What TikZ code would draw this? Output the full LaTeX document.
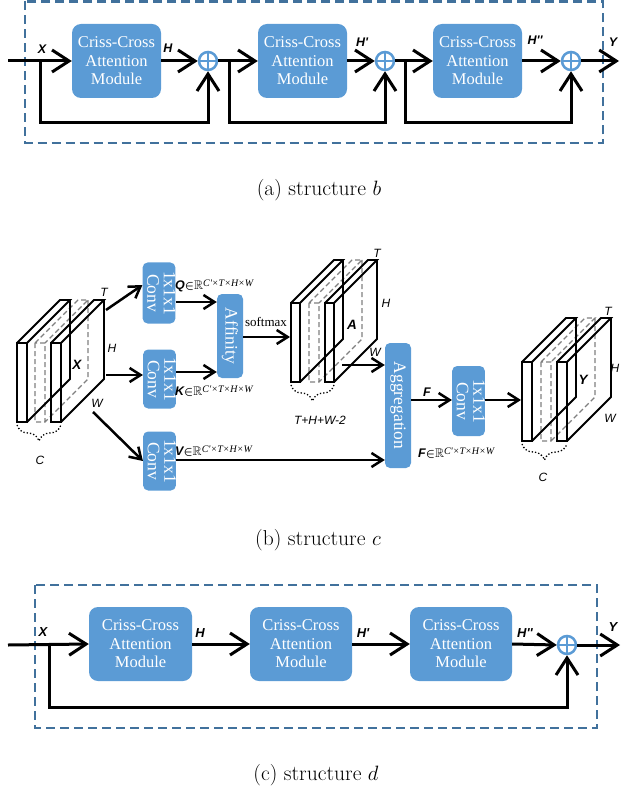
\documentclass[tikz,border=0pt]{standalone}
\usepackage{fontspec}
\usepackage{amsmath,amssymb}
\usetikzlibrary{arrows.meta,decorations.pathreplacing,calc}
\newfontfamily\tnr{Liberation Serif}
\newfontfamily\arl{Liberation Sans}
\definecolor{cblue}{HTML}{5B9BD5}
\definecolor{dblue}{HTML}{41719C}
\newcommand{\myslab}[6]{%
  \draw[#1] (#2,#3) rectangle ++(#4,#5)
    (#2,#3) -- ++(#6,-#6) -- ++(#4,0) -- ++(-#6,#6)
    ++(#6,-#6) -- ++(0,#5) -- ++(-#6,#6);}
\newcommand{\convtxt}{\rotatebox{-90}{\begin{tabular}{@{}c@{}}1x1x1\\Conv\end{tabular}}}
\newcommand{\tens}[1]{{\arl\bfseries\itshape #1}{\boldmath$\in$}$\mathbb{R}$\raisebox{3.5pt}{\normalfont\tnr\itshape\fontsize{10}{10}\selectfont C'×T×H×W}}
\newcommand{\ccatxt}{Criss-Cross\\Attention\\Module}
\begin{document}
\begin{tikzpicture}[x=1pt,y=-1pt,
  cca/.style={rectangle,rounded corners=9pt,fill=cblue,text=white,font=\tnr\fontsize{16.5}{18.5}\selectfont,align=center,minimum height=74pt,inner sep=0pt},
  vbox/.style={rectangle,rounded corners=5pt,fill=cblue,text=white,inner sep=0pt,font=\tnr\fontsize{17.5}{16}\selectfont},
  oplus/.style={circle,draw=cblue,line width=2.5pt,fill=white,minimum size=18pt,inner sep=0pt},
  big/.style={line width=3pt,-{Straight Barb[length=17pt,width=22pt]}},
  sm/.style={line width=2.5pt,-{Straight Barb[length=11pt,width=14pt]}},
  dframe/.style={draw=dblue,line width=2.5pt,dash pattern=on 9pt off 5pt},
  lbl/.style={font=\arl\bfseries\itshape\fontsize{12.5}{12.5}\selectfont,inner sep=0pt},
  lbld/.style={font=\arl\bfseries\itshape\fontsize{13}{13}\selectfont,inner sep=0pt},
  lblb/.style={font=\arl\bfseries\itshape\fontsize{13.5}{13.5}\selectfont,inner sep=0pt},
  dimlbl/.style={font=\arl\itshape\fontsize{12}{12}\selectfont,inner sep=0pt},
  captext/.style={font=\fontsize{21.5}{24}\selectfont,inner sep=0pt},
  slabline/.style={line width=1.8pt,line join=miter},
  slabdash/.style={line width=1.3pt,gray,dash pattern=on 5pt off 3pt},
  brc/.style={line width=1.3pt,dotted,decorate,decoration={brace,mirror,amplitude=16pt}},
  ]
\useasboundingbox (0,0) rectangle (621,791);
% ================= structure b =================
\draw[dframe] (25,1.5) rectangle (603,143);
\node[cca,minimum width=89pt] (b1) at (116.5,61) {\ccatxt};
\node[cca,minimum width=89pt] (b2) at (302.5,61) {\ccatxt};
\node[cca,minimum width=89pt] (b3) at (477.5,61) {\ccatxt};
\node[oplus] (p1) at (208,61) {};
\node[oplus] (p2) at (385,61) {};
\node[oplus] (p3) at (571,61) {};
\foreach \p in {p1,p2,p3}{\draw[cblue,line width=2.5pt] (\p.north) -- (\p.south) (\p.west) -- (\p.east);}
\coordinate (bin) at (8,61);
\coordinate (bout) at (619,61);
\coordinate (bf1) at (40,61);  \coordinate (bf1d) at (40,123);
\coordinate (bf2) at (229,61); \coordinate (bf2d) at (229,123);
\coordinate (bf3) at (405,61); \coordinate (bf3d) at (405,123);
\draw[big] (bin) -- (b1.west);
\draw[big] (b1.east) -- (p1.west);
\draw[big] (p1.east) -- (b2.west);
\draw[big] (b2.east) -- (p2.west);
\draw[big] (p2.east) -- (b3.west);
\draw[big] (b3.east) -- (p3.west);
\draw[big] (p3.east) -- (bout);
\draw[big] (bf1) -- (bf1d) -| (p1.south);
\draw[big] (bf2) -- (bf2d) -| (p2.south);
\draw[big] (bf3) -- (bf3d) -| (p3.south);
\node[lbl] (bx) at (42,49) {X};
\node[lbl] (bh) at (168,48) {H};
\node[lbl] (bh1) at (362,42) {H'};
\node[lbl] (bh2) at (535,40) {H''};
\node[lbl] (by) at (613,42) {Y};
\node[captext] (capa) at (319,190) {(a) structure $b$};
% ================= structure c =================
% X stack
\myslab{slabdash}{35}{343}{10}{79}{43}
\myslab{slabline}{17}{343}{10}{79}{43}
\myslab{slabline}{51}{343}{10}{79}{43}
\draw[brc] (17,425) -- (61,425);
\node[dimlbl] (xt) at (104,292) {T};
\node[dimlbl] (xh) at (112,348) {H};
\node[dimlbl] (xw) at (97,403) {W};
\node[lblb] (xx) at (77,365) {X};
\node[dimlbl] (xc) at (40,460) {C};
% A stack
\myslab{slabdash}{309}{303}{10}{79}{43}
\myslab{slabline}{291}{303}{9}{79}{43}
\myslab{slabline}{325}{303}{9}{79}{43}
\draw[brc] (291,385) -- (334,385);
\node[dimlbl] (at) at (377,253) {T};
\node[dimlbl] (ah) at (386,303) {H};
\node[dimlbl] (aw) at (375,352) {W};
\node[lblb] (aa) at (352,325) {A};
\node[dimlbl] (athw) at (320,420) {T+H+W-2};
% Y stack
\myslab{slabdash}{541}{362}{10}{79}{44}
\myslab{slabline}{522}{362}{10}{79}{44}
\myslab{slabline}{557}{362}{10}{79}{44}
\draw[brc] (522,444) -- (567,444);
\node[dimlbl] (yt) at (608,311) {T};
\node[dimlbl] (yh) at (615,368) {H};
\node[dimlbl] (yw) at (610,418) {W};
\node[lblb] (yy) at (583,380) {Y};
\node[dimlbl] (yc) at (543,477) {C};
% boxes
\node[vbox,minimum width=31pt,minimum height=61pt] (cq) at (159,293) {\convtxt};
\node[vbox,minimum width=30pt,minimum height=59pt] (ck) at (159.5,379) {\convtxt};
\node[vbox,minimum width=30pt,minimum height=59pt] (cv) at (159.5,461) {\convtxt};
\node[vbox,minimum width=26pt,minimum height=84pt] (aff) at (230,336) {\rotatebox{-90}{Affinity}};
\node[vbox,minimum width=26pt,minimum height=125pt] (agg) at (398,405.5) {\rotatebox{-90}{Aggregation}};
\node[vbox,minimum width=31pt,minimum height=70pt] (c4) at (468.5,401) {\convtxt};
% arrows
\coordinate (xq) at (106,310);
\coordinate (xk) at (106,375);
\coordinate (xv) at (93,412);
\coordinate (ain) at (290,337);
\coordinate (aout) at (342,365);
\coordinate (yin) at (521,400);
\draw[sm] (xq) -- (cq.west |- 0,285);
\draw[sm] (xk) -- (ck.west |- 0,375);
\draw[sm] (xv) -- (cv.west |- 0,461);
\draw[sm] (cq.east |- 0,302) -- (aff.west |- 0,302);
\draw[sm] (ck.east |- 0,372) -- (aff.west |- 0,372);
\draw[sm] (aff.east |- 0,337) -- (ain);
\draw[sm] (aout) -- (agg.west |- 0,365);
\draw[sm] (cv.east |- 0,460) -- (agg.west |- 0,460);
\draw[sm] (agg.east |- 0,400) -- (c4.west |- 0,400);
\draw[sm] (c4.east |- 0,400) -- (yin);
\node[font=\tnr\fontsize{13}{13}\selectfont,inner sep=0pt] (smax) at (266,322) {softmax};
\node[lbl,anchor=west] (lq) at (175,286) {\tens{Q}};
\node[lbl,anchor=west] (lk) at (175,391) {\tens{K}};
\node[lbl,anchor=west] (lv) at (175,451) {\tens{V}};
\node[lbl,anchor=west] (lf2) at (418,453) {\tens{F}};
\node[lbl] (lf) at (427,392) {F};
\node[captext] (capb) at (318,540) {(b) structure $c$};
% ================= structure d =================
\draw[dframe] (35,585) rectangle (597,728);
\node[cca,minimum width=103pt] (d1) at (140.5,644) {\ccatxt};
\node[cca,minimum width=102pt] (d2) at (301,644) {\ccatxt};
\node[cca,minimum width=102pt] (d3) at (461,644) {\ccatxt};
\node[oplus] (pd) at (567,645) {};
\draw[cblue,line width=2.5pt] (pd.north) -- (pd.south) (pd.west) -- (pd.east);
\coordinate (din) at (8,645);
\coordinate (dout) at (620,645);
\coordinate (df) at (49,645); \coordinate (dfd) at (49,707);
\draw[big] (din) -- (d1.west);
\draw[big] (d1.east) -- (d2.west);
\draw[big] (d2.east) -- (d3.west);
\draw[big] (d3.east) -- (pd.west);
\draw[big] (pd.east) -- (dout);
\draw[big] (df) -- (dfd) -| (pd.south);
\node[lbld] (dx) at (43,632) {X};
\node[lbld] (dh) at (200,633) {H};
\node[lbld] (dh1) at (363,633) {H'};
\node[lbld] (dh2) at (525,633) {H''};
\node[lbld] (dy) at (613,627) {Y};
\node[captext] (capc) at (316,775) {(c) structure $d$};
\end{tikzpicture}
\end{document}
